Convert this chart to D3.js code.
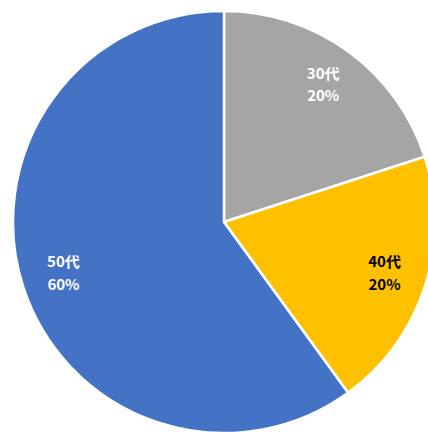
<!DOCTYPE html>
<html><head><meta charset="utf-8">
<script src="https://cdn.jsdelivr.net/npm/d3@7"></script>
<style>body{margin:0;background:#fff}svg{display:block}</style>
</head><body>
<svg id="chart" width="428" height="432"></svg>
<script>
const categories = ["30代", "40代", "50代"];
const values = [20, 20, 60];
const colors = ["#A5A5A5", "#FFC000", "#4472C4"];
const labelColors = ["#FFFFFF", "#000000", "#FFFFFF"];

const svg = d3.select("#chart");
const cx = 224, cy = 222, R = 211;
const g = svg.append("g").attr("transform", `translate(${cx},${cy})`);
const data = categories.map((c, i) => ({cat: c, value: values[i], color: colors[i], lc: labelColors[i]}));
const pie = d3.pie().value(d => d.value).sort(null);
const arc = d3.arc().innerRadius(0).outerRadius(R);
const labelArc = d3.arc().innerRadius(R * 0.8).outerRadius(R * 0.8);
const arcs = pie(data);

g.selectAll("path").data(arcs).join("path")
  .attr("d", arc)
  .attr("fill", d => d.data.color)
  .attr("stroke", "#fff")
  .attr("stroke-width", 2.5)
  .attr("stroke-linejoin", "miter");

const lab = g.selectAll("text").data(arcs).join("text")
  .attr("transform", d => `translate(${labelArc.centroid(d)})`)
  .attr("text-anchor", "middle")
  .attr("font-family", "'Noto Sans CJK JP', 'Noto Sans', sans-serif")
  .attr("font-weight", "bold")
  .attr("font-size", 15)
  .attr("fill", d => d.data.lc);
lab.append("tspan").attr("x", 0).attr("dy", "-0.45em").text(d => d.data.cat);
lab.append("tspan").attr("x", 0).attr("dy", "1.5em").text(d => d.data.value + "%");
</script>
</body></html>
